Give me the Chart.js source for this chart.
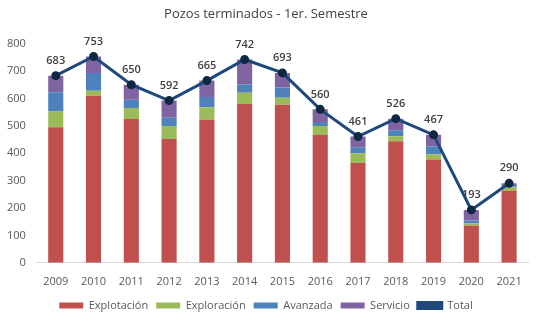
<!DOCTYPE html>
<html>
<head>
<meta charset="utf-8">
<script src="https://cdn.jsdelivr.net/npm/chart.js@4/dist/chart.umd.min.js"></script>
<style>
  html, body { margin: 0; padding: 0; background: #fff; }
  #wrap { width: 543px; height: 324px; }
</style>
</head>
<body>
<div id="wrap"><canvas id="pozos"></canvas></div>
<script>
const years = ["2009","2010","2011","2012","2013","2014","2015","2016","2017","2018","2019","2020","2021"];
const explotacion = [495, 610, 525, 452, 522, 580, 577, 466, 364, 444, 377, 136, 263];
const exploracion = [57, 18, 40, 47, 46, 41, 25, 33, 36, 18, 18, 8, 12];
const avanzada    = [70, 65, 30, 30, 37, 30, 38, 15, 22, 22, 29, 10, 4];
const servicio    = [61, 60, 55, 63, 60, 91, 53, 46, 39, 42, 43, 39, 11];
const total       = [683, 753, 650, 592, 665, 742, 693, 560, 461, 526, 467, 193, 290];

const FONT = "'Open Sans', sans-serif";

// numbers above the Total line points
const totalLabels = {
    id: "totalLabels",
    afterDatasetsDraw(chart) {
        const ctx = chart.ctx;
        const meta = chart.getDatasetMeta(4);
        ctx.save();
        ctx.font = "600 11px " + FONT;
        ctx.fillStyle = "#404040";
        ctx.textAlign = "center";
        ctx.textBaseline = "middle";
        meta.data.forEach((pt, i) => {
            ctx.fillText(total[i], pt.x, pt.y - 15);
        });
        ctx.restore();
    }
};

const bar = (label, data, color) => ({
    type: "bar",
    label: label,
    data: data,
    backgroundColor: color,
    borderWidth: 0,
    stack: "s",
    order: 1,
    barPercentage: 0.8,
    categoryPercentage: 0.5
});

new Chart("pozos", {
    data: {
        labels: years,
        datasets: [
            bar("Explotación", explotacion, "#C0504D"),
            bar("Exploración", exploracion, "#9BBB59"),
            bar("Avanzada", avanzada, "#4F81BD"),
            bar("Servicio", servicio, "#8064A2"),
            {
                type: "line",
                label: "Total",
                data: total,
                borderColor: "#1F497D",
                backgroundColor: "#1F497D",
                borderWidth: 3,
                pointRadius: 3,
                pointBackgroundColor: "#0E2841",
                pointBorderColor: "#0E2841",
                order: 0
            }
        ]
    },
    options: {
        responsive: true,
        maintainAspectRatio: false,
        animation: false,
        layout: { padding: { top: 4, right: 15, left: 4, bottom: 3 } },
        plugins: {
            title: {
                display: true,
                text: "Pozos terminados - 1er. Semestre",
                color: "#404040",
                font: { family: FONT, size: 13, weight: "normal" },
                padding: { top: 2, bottom: 22 }
            },
            legend: {
                position: "bottom",
                labels: {
                    color: "#595959",
                    font: { family: FONT, size: 11 },
                    boxWidth: 24,
                    boxHeight: 6,
                    padding: 8,
                    sort: (a, b) => a.datasetIndex - b.datasetIndex
                }
            },
            tooltip: { enabled: false }
        },
        scales: {
            x: {
                stacked: true,
                grid: { display: false },
                border: { color: "#D9D9D9" },
                ticks: { color: "#595959", font: { family: FONT, size: 11 }, padding: 4 }
            },
            y: {
                stacked: true,
                min: 0,
                max: 800,
                grid: { display: false },
                border: { display: false },
                ticks: { stepSize: 100, color: "#595959", font: { family: FONT, size: 11 } }
            }
        }
    },
    plugins: [totalLabels]
});
</script>
</body>
</html>
